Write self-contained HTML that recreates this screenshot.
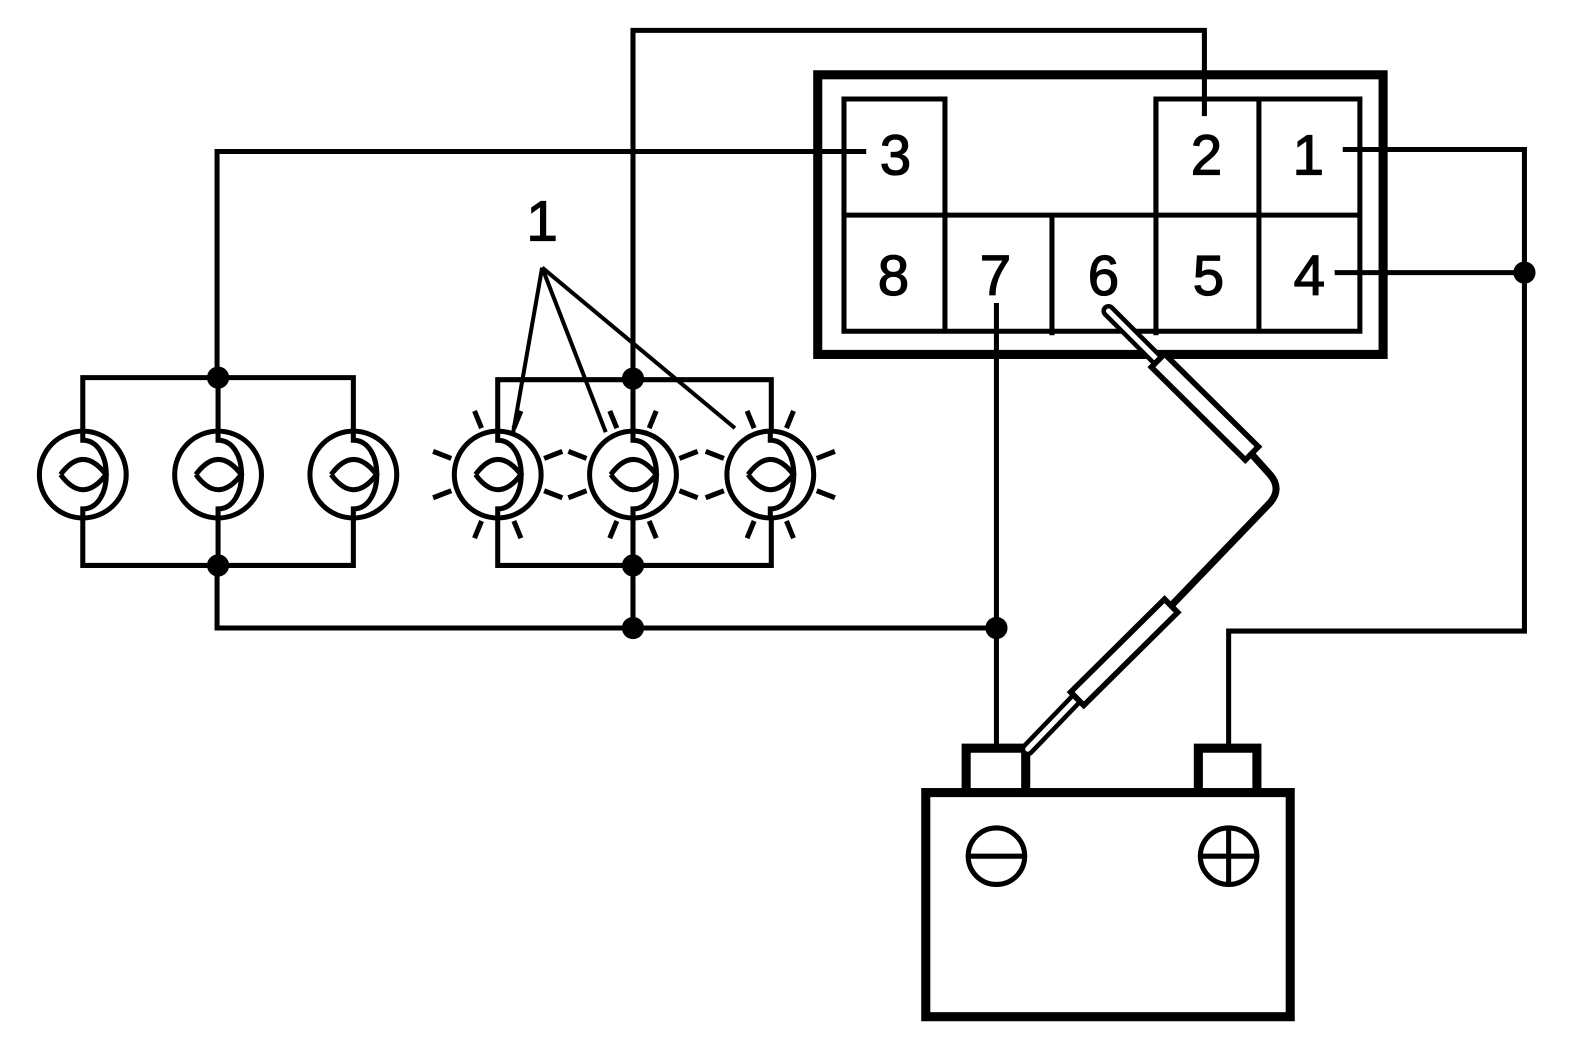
<!DOCTYPE html>
<html><head><meta charset="utf-8"><style>
html,body{margin:0;padding:0;background:#fff;}
svg{display:block;}
text{font-family:"Liberation Sans",sans-serif;font-size:56px;fill:#000;stroke:#000;stroke-width:1.2px;text-anchor:middle;}
</style></head><body>
<svg width="1584" height="1040" viewBox="0 0 1569 1030" xmlns="http://www.w3.org/2000/svg">
<defs>
<g id="lamp" fill="none" stroke="#000" stroke-width="5">
  <circle cx="0" cy="0" r="43" fill="#fff"/>
  <path d="M0,-43 V-34 C31,-34 31,34 0,34 V43"/>
  <path d="M-22,0 Q0,-30 23,0 Q0,30 -22,0"/>
</g>
<g id="rays" stroke="#000" stroke-width="5">
  <line x1="16" y1="-46" x2="23" y2="-63"/>
  <line x1="-16" y1="-46" x2="-23" y2="-63"/>
  <line x1="16" y1="46" x2="23" y2="63"/>
  <line x1="-16" y1="46" x2="-23" y2="63"/>
  <line x1="46" y1="-16" x2="64" y2="-23"/>
  <line x1="-46" y1="-16" x2="-64" y2="-23"/>
  <line x1="46" y1="16" x2="64" y2="23"/>
  <line x1="-46" y1="16" x2="-64" y2="23"/>
</g>
</defs>
<g fill="none" stroke="#000" stroke-width="5">
  <rect x="810" y="74" width="560" height="277" stroke-width="9"/>
  <path d="M836,213 V98 H936 V213"/>
  <path d="M1145,213 V98 H1347 V328 H836 V213 H1347"/>
  <path d="M936,213 V328 M1042,213 V332 M1145,98 V332 M1247,98 V328"/>
  <path d="M858,150 H215 V374"/>
  <path d="M627,375 V30 H1193 V115"/>
  <path d="M1330,148 H1510 V625 H1217 V740"/>
  <path d="M1322,270 H1510"/>
  <path d="M987,300 V740"/>
  <path d="M215,560 V622 H987"/>
  <path d="M627,560 V622"/>
  <path d="M82,430 V374 H350 V430 M216,374 V430"/>
  <path d="M82,510 V560 H350 V510 M216,560 V510"/>
  <path d="M493,430 V376 H764 V430 M627,376 V430"/>
  <path d="M493,510 V560 H764 V510 M627,560 V510"/>
  <path d="M537,265 L508,430 M537,265 L600,428 M537,265 L728,424" stroke-width="4"/>
  <rect x="917" y="785" width="361" height="222" stroke-width="9"/>
  <path d="M957,785 V741 H1016 V785 M1187,785 V741 H1245 V785" stroke-width="9"/>
  <circle cx="987" cy="848" r="28"/>
  <path d="M957,848 H1017"/>
  <circle cx="1217" cy="848" r="28"/>
  <path d="M1187,848 H1247 M1217,818 V878"/>
</g>
<use href="#lamp" x="82" y="470"/>
<use href="#lamp" x="216" y="470"/>
<use href="#lamp" x="350" y="470"/>
<use href="#rays" x="493" y="470"/>
<use href="#rays" x="627" y="470"/>
<use href="#rays" x="763" y="470"/>
<use href="#lamp" x="493" y="470"/>
<use href="#lamp" x="627" y="470"/>
<use href="#lamp" x="763" y="470"/>
<g fill="#000">
  <circle cx="216" cy="374" r="11"/><circle cx="216" cy="560" r="11"/>
  <circle cx="627" cy="375" r="11"/><circle cx="627" cy="560" r="11"/>
  <circle cx="627" cy="622" r="11"/><circle cx="987" cy="622" r="11"/>
  <circle cx="1510" cy="270" r="11"/>
</g>
<g fill="none" stroke-linejoin="round">
  <path d="M1240,450 L1258,470 Q1270,484 1258,498 L1160,600" stroke="#000" stroke-width="7"/>
  <line x1="1098" y1="308" x2="1148" y2="358" stroke="#000" stroke-width="14" stroke-linecap="round"/>
  <line x1="1098" y1="308" x2="1148" y2="358" stroke="#fff" stroke-width="5" stroke-linecap="round"/>
  <line x1="1145" y1="355" x2="1242" y2="451" stroke="#000" stroke-width="24"/>
  <line x1="1149" y1="359" x2="1238" y2="447" stroke="#fff" stroke-width="13"/>
  <line x1="1018" y1="742" x2="1070" y2="688" stroke="#000" stroke-width="14" stroke-linecap="round"/>
  <line x1="1018" y1="742" x2="1070" y2="688" stroke="#fff" stroke-width="5" stroke-linecap="round"/>
  <line x1="1065" y1="694" x2="1162" y2="598" stroke="#000" stroke-width="24"/>
  <line x1="1069" y1="690" x2="1158" y2="602" stroke="#fff" stroke-width="13"/>
</g>
<text x="887" y="173">3</text>
<text x="1195" y="173">2</text>
<text x="1296" y="173">1</text>
<text x="885" y="292">8</text>
<text x="986" y="292">7</text>
<text x="1093" y="292">6</text>
<text x="1197" y="292">5</text>
<text x="1297" y="292">4</text>
<text x="537" y="238">1</text>
</svg>
</body></html>
